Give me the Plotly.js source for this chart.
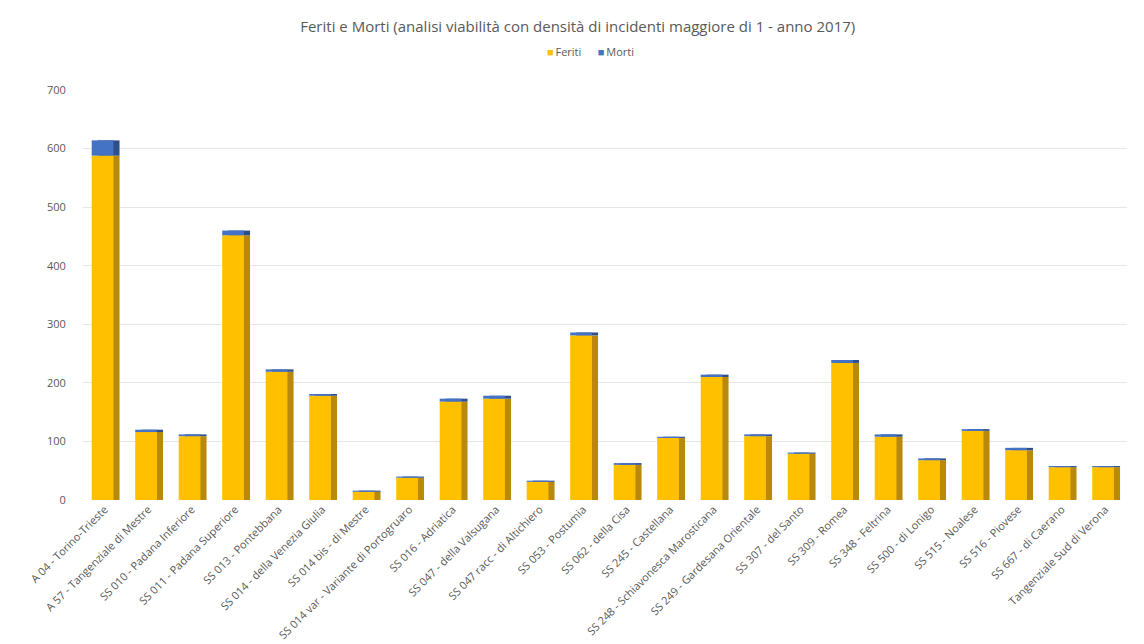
<!DOCTYPE html>
<html><head><meta charset="utf-8">
<script src="https://cdn.plot.ly/plotly-3.0.1.min.js"></script>
<style>html,body{margin:0;padding:0;background:#fff}#chart{width:1144px;height:644px}</style>
</head><body><div id="chart"></div>
<script>
const categories = ["A 04 - Torino-Trieste","A 57 - Tangenziale di Mestre","SS 010 - Padana Inferiore","SS 011 - Padana Superiore","SS 013 - Pontebbana","SS 014 - della Venezia Giulia","SS 014 bis - di Mestre","SS 014 var - Variante di Portogruaro","SS 016 - Adriatica","SS 047 - della Valsugana","SS 047 racc - di Altichiero","SS 053 - Postumia","SS 062 - della Cisa","SS 245 - Castellana","SS 248 - Schiavonesca Marosticana","SS 249 - Gardesana Orientale","SS 307 - del Santo","SS 309 - Romea","SS 348 - Feltrina","SS 500 - di Lonigo","SS 515 - Noalese","SS 516 - Piovese","SS 667 - di Caerano","Tangenziale Sud di Verona"];
const feriti = [588,116,109,452,219,178,14,38,168,173,31,281,60,106,210,109,79,234,108,68,118,85,56,56];
const morti  = [26,4,3,8,4,3,2,2,5,5,2,5,3,2,4,3,2,5,4,3,3,4,2,2];
const yTicks = [0,100,200,300,400,500,600,700];
const seriesNames = ['Feriti','Morti'];
const seriesColors = ['#FFC000','#4472C4'];

const W = 0.5, OFF = -0.3, SH = 0.14;
const traces = [
  {type:'bar', x:categories, y:feriti, width:W, offset:OFF+SH, marker:{color:'#B8890A'}, hoverinfo:'skip'},
  {type:'bar', x:categories, y:morti, base:feriti, width:W, offset:OFF+SH, marker:{color:'#2E4F8C'}, hoverinfo:'skip'},
  {type:'bar', name:seriesNames[0], x:categories, y:feriti, width:W, offset:OFF, marker:{color:seriesColors[0]}},
  {type:'bar', name:seriesNames[1], x:categories, y:morti, base:feriti, width:W, offset:OFF, marker:{color:seriesColors[1]}}
];
const legendText = seriesNames.map((n,i)=>`<span style="color:${seriesColors[i]}">■</span>\u2009${n}`).join('\u2003\u2002');
const layout = {
  width:1144, height:644,
  paper_bgcolor:'#fff', plot_bgcolor:'#fff',
  margin:{l:83, r:17, t:90, b:144},
  barmode:'overlay', showlegend:false,
  title:{text:'Feriti e Morti (analisi viabilità con densità di incidenti maggiore di 1 - anno 2017)', x:0.505, xanchor:'center', y:0.958, yanchor:'middle', font:{family:'Open Sans, Liberation Sans, sans-serif', size:15, color:'#595959'}},
  annotations:[{text:legendText, xref:'paper', yref:'paper', x:0.486, xanchor:'center', y:1.093, yanchor:'middle', showarrow:false, font:{family:'Open Sans, sans-serif', size:11, color:'#595959'}}],
  xaxis:{type:'category', tickangle:-45, tickfont:{family:'Open Sans, sans-serif', size:11, color:'#595959'}, showgrid:false, showline:false, ticks:'', automargin:false},
  yaxis:{range:[0,700], tickvals:yTicks, ticktext:yTicks.map(String), tickfont:{family:'Open Sans, sans-serif', size:11, color:'#595959'}, gridcolor:'#E6E6E6', gridwidth:1, zeroline:false, showline:false, ticks:'outside', ticklen:14, tickcolor:'rgba(0,0,0,0)', automargin:false}
};
Plotly.newPlot('chart', traces, layout, {displayModeBar:false, staticPlot:true});
</script></body></html>
